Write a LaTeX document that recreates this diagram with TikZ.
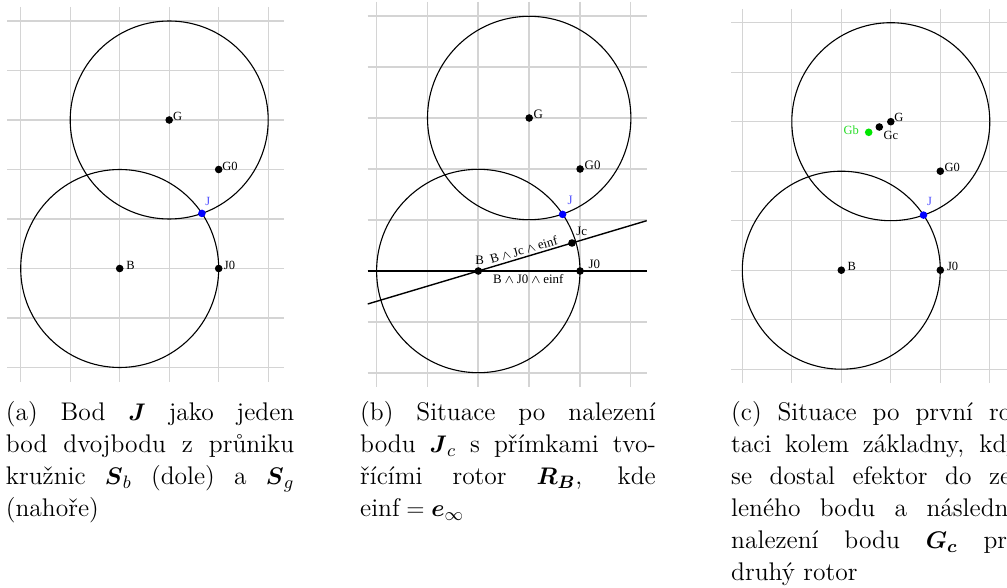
\documentclass[tikz,border=0pt]{standalone}
\usepackage{amsmath}
\usepackage{fontspec}
\newfontfamily\lblfont{Liberation Serif}
\newcommand\capfont{\fontsize{12.75pt}{16pt}\selectfont}
\newcommand\lblsize{\fontsize{6.25pt}{7pt}\selectfont}
\newcommand\lblbsize{\fontsize{6.45pt}{7pt}\selectfont}
\tolerance=10000
\hbadness=10000
\definecolor{gridc}{RGB}{212,212,212}
\definecolor{jblue}{RGB}{0,0,255}
\definecolor{jtext}{RGB}{80,80,255}
\definecolor{gbgreen}{RGB}{0,230,0}
\definecolor{gbtext}{RGB}{40,220,40}
\tikzset{
  gridline/.style={draw=gridc, line width=0.65pt},
  circ/.style={draw=black, line width=0.55pt},
  rline/.style={draw=black, line width=0.7pt},
  ptdot/.style={circle, fill=black, inner sep=0pt, minimum size=3.8pt},
  bdot/.style={ptdot, fill=jblue},
  gdot/.style={ptdot, fill=gbgreen},
  lbl/.style={inner sep=0pt, font=\lblfont\lblsize, anchor=base west},
  lblb/.style={lbl, font=\lblfont\lblbsize},
  captext/.style={inner sep=0pt, anchor=north west, align=justify, font=\capfont}
}
\begin{document}
\begin{tikzpicture}[x=0.5pt, y=-0.5pt]
\useasboundingbox (0,0) rectangle (1007,588);
\clip (0,0) rectangle (1007,588);
% ---------------- panel (a) ----------------
\foreach \k in {0,...,5} \draw[gridline] ({20.7+49.5*\k},7) -- ({20.7+49.5*\k},381.7);
\foreach \k in {0,...,7} \draw[gridline] (7,{21+49.5*\k}) -- (283.7,{21+49.5*\k});
\coordinate (aB) at (119.7,268.5);
\coordinate (aG) at (169.2,120);
\coordinate (aG0) at (218.7,169.5);
\coordinate (aJ0) at (218.7,268.5);
\coordinate (aJ) at (201.9,213.4);
\draw[circ] (aB) circle[radius=49.5pt];
\draw[circ] (aG) circle[radius=49.5pt];
\node[ptdot] (aBd) at (aB) {};
\node[ptdot] (aGd) at (aG) {};
\node[ptdot] (aG0d) at (aG0) {};
\node[ptdot] (aJ0d) at (aJ0) {};
\node[bdot] (aJd) at (aJ) {};
\node[lbl] (aBl) at (126,269.3) {B};
\node[lbl] (aGl) at (172.7,120.3) {G};
\node[lbl] (aG0l) at (222,170.7) {G0};
\node[lbl] (aJ0l) at (223.5,269.3) {J0};
\node[lbl, text=jtext] (aJl) at (205,206) {J};
% ---------------- panel (b) ----------------
\foreach \k in {0,...,5} \draw[gridline] ({376.3+50.9*\k},1.7) -- ({376.3+50.9*\k},387.3);
\foreach \k in {0,...,7} \draw[gridline] (367.7,{16+51*\k}) -- (646.7,{16+51*\k});
\coordinate (bB) at (478.3,271);
\coordinate (bG) at (529.2,118);
\coordinate (bG0) at (580.1,169);
\coordinate (bJ0) at (580.1,271);
\coordinate (bJ) at (562.6,214.4);
\coordinate (bJc) at (572,243);
\coordinate (bL1) at (367.7,304.0);
\coordinate (bR1) at (646.7,220.7);
\coordinate (bL2) at (367.7,271);
\coordinate (bR2) at (646.7,271);
\draw[circ] (bB) circle[radius=50.85pt];
\draw[circ] (bG) circle[radius=50.85pt];
\draw[rline] (bL1) -- (bR1);
\draw[rline] (bL2) -- (bR2);
\node[ptdot] (bBd) at (bB) {};
\node[ptdot] (bGd) at (bG) {};
\node[ptdot] (bG0d) at (bG0) {};
\node[ptdot] (bJ0d) at (bJ0) {};
\node[ptdot] (bJcd) at (bJc) {};
\node[bdot] (bJd) at (bJ) {};
\node[lblb] (bBl) at (475,264.3) {B};
\node[lblb] (bGl) at (533.3,118.3) {G};
\node[lblb] (bG0l) at (584.3,169.3) {G0};
\node[lblb] (bJ0l) at (588.3,268.3) {J0};
\node[lblb] (bJcl) at (576,236) {Jc};
\node[lblb, text=jtext] (bJl) at (567.3,205) {J};
\node[lblb, anchor=base, rotate=16.6] (bW1) at (525,253.9) {B$\,\wedge\,$Jc$\,\wedge\,$einf};
\node[lblb, anchor=base] (bW2) at (528.3,283.3) {B$\,\wedge\,$J0$\,\wedge\,$einf};
% ---------------- panel (c) ----------------
\foreach \k in {0,...,5} \draw[gridline] ({742.3+49.5*\k},9) -- ({742.3+49.5*\k},383);
\foreach \k in {0,...,7} \draw[gridline] (731,{22.7+49.5*\k}) -- (1020,{22.7+49.5*\k});
\coordinate (cB) at (841.3,270.2);
\coordinate (cG) at (890.8,121.7);
\coordinate (cG0) at (940.3,171.2);
\coordinate (cJ0) at (940.3,270.2);
\coordinate (cJ) at (923.5,215.1);
\coordinate (cGc) at (879.3,127);
\coordinate (cGb) at (868.7,132.3);
\draw[circ] (cB) circle[radius=49.5pt];
\draw[circ] (cG) circle[radius=49.5pt];
\node[ptdot] (cBd) at (cB) {};
\node[ptdot] (cGd) at (cG) {};
\node[ptdot] (cG0d) at (cG0) {};
\node[ptdot] (cJ0d) at (cJ0) {};
\node[ptdot] (cGcd) at (cGc) {};
\node[gdot] (cGbd) at (cGb) {};
\node[bdot] (cJd) at (cJ) {};
\node[lbl] (cBl) at (847.3,270.5) {B};
\node[lbl] (cGl) at (894,121.7) {G};
\node[lbl] (cGcl) at (883.3,139.3) {Gc};
\node[lbl, anchor=base east, text=gbtext] (cGbl) at (859.3,134.3) {Gb};
\node[lbl] (cG0l) at (944.3,171.2) {G0};
\node[lbl] (cJ0l) at (946.7,270.5) {J0};
\node[lbl, text=jtext] (cJl) at (926.7,206) {J};
% ---------------- captions ----------------
\node[captext, text width=144.2pt] (capa) at (5.5,401) {(a) Bod $\boldsymbol{J}$ jako jeden\linebreak bod dvojbodu z průniku\linebreak kružnic $\boldsymbol{S}_b$ (dole) a $\boldsymbol{S}_g$\linebreak (nahoře)};
\node[captext, text width=147.8pt] (capb) at (359.8,401) {(b) Situace po nalezení\linebreak bodu $\boldsymbol{J}_c$ s přímkami tvo-\linebreak řícími rotor $\boldsymbol{R_B}$, kde\linebreak einf${}=\boldsymbol{e}_\infty$};
\node[captext, text width=144.2pt] (capc) at (730.8,401) {(c) Situace po první ro-\linebreak taci kolem základny, kdy\linebreak se dostal efektor do ze-\linebreak leného bodu a následně\linebreak nalezení bodu $\boldsymbol{G_c}$ pro\linebreak druhý rotor};
\end{tikzpicture}
\end{document}
